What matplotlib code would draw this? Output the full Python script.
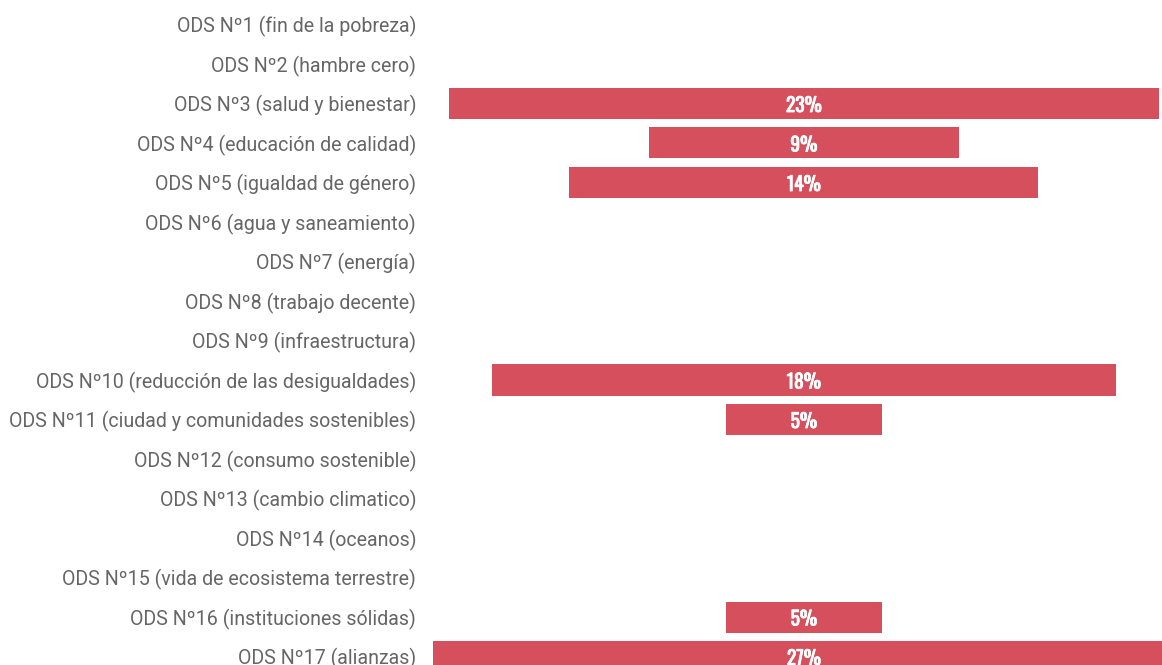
"""Centred bar chart: share of projects per ODS (SDG)."""

import matplotlib

matplotlib.use("Agg")

import matplotlib.pyplot as plt
import matplotlib.patheffects as pe
import numpy as np


categories = [
    "ODS Nº1 (fin de la pobreza)",
    "ODS Nº2 (hambre cero)",
    "ODS Nº3 (salud y bienestar)",
    "ODS Nº4 (educación de calidad)",
    "ODS Nº5 (igualdad de género)",
    "ODS Nº6 (agua y saneamiento)",
    "ODS Nº7 (energía)",
    "ODS Nº8 (trabajo decente)",
    "ODS Nº9 (infraestructura)",
    "ODS Nº10 (reducción de las desigualdades)",
    "ODS Nº11 (ciudad y comunidades sostenibles)",
    "ODS Nº12 (consumo sostenible)",
    "ODS Nº13 (cambio climatico)",
    "ODS Nº14 (oceanos)",
    "ODS Nº15 (vida de ecosistema terrestre)",
    "ODS Nº16 (instituciones sólidas)",
    "ODS Nº17 (alianzas)",
]
# percentages shown on the bars
shares = [0, 0, 23, 9, 14, 0, 0, 0, 0, 18, 5, 0, 0, 0, 0, 5, 27]
# bar lengths as drawn in the original (large bars are compressed there)
bar_len = [0, 0, 20.6, 9.0, 13.6, 0, 0, 0, 0, 18.1, 4.5, 0, 0, 0, 0, 4.5, 21.5]

BAR_COLOR = "#d64f5d"
LABEL_COLOR = "#666666"

fig = plt.figure(figsize=(11.62, 6.65), dpi=100)
ax = fig.add_axes([432 / 1162, 0, 730 / 1162, 1])

y = np.arange(len(categories))
lengths = np.array(bar_len)
ax.barh(y, lengths, left=-lengths / 2, height=0.785, color=BAR_COLOR)

# Oswald only ships one weight here, a thin stroke thickens it
bold = [pe.withStroke(linewidth=0.6, foreground="white")]
for yi, share in zip(y, shares):
    if share:
        ax.text(0, yi, f"{share}%", ha="center", va="center_baseline",
                color="white", fontsize=14, path_effects=bold,
                family=["Oswald", "Barlow Condensed", "DejaVu Sans"])

ax.set_xlim(-10.78, 10.38)
ax.set_ylim(16.215, -0.62)
ax.set_yticks(y)
ax.set_yticklabels(categories, family=["Roboto", "DejaVu Sans"],
                   fontsize=14.1, color=LABEL_COLOR)
ax.tick_params(axis="y", length=0, pad=11.5)
ax.set_xticks([])
for spine in ax.spines.values():
    spine.set_visible(False)

fig.savefig("out.png", dpi=100)
